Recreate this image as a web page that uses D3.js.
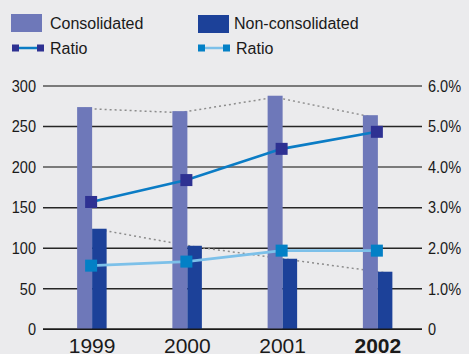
<!DOCTYPE html>
<html>
<head>
<meta charset="utf-8">
<script src="https://cdn.jsdelivr.net/npm/d3@7"></script>
<style>
  html, body { margin: 0; padding: 0; background: #ebebed; }
  svg { display: block; }
  text { font-family: "Liberation Sans", Arial, sans-serif; fill: #1a1a1a; }
</style>
</head>
<body>
<svg id="chart" width="469" height="354"></svg>
<script>
// Fiscal years shown on the x axis
const years = ["1999", "2000", "2001", "2002"];
// Bar values (left axis)
const consolidated = [274, 269, 288, 264];
const nonConsolidated = [124, 103, 87, 71];
// Ratio values in percent (right axis)
const consolidatedRatio = [3.14, 3.68, 4.45, 4.87];
const nonConsolidatedRatio = [1.57, 1.67, 1.94, 1.94];
// Tick labels
const leftTicks = [0, 50, 100, 150, 200, 250, 300];
const rightTickLabels = ["0", "1.0%", "2.0%", "3.0%", "4.0%", "5.0%", "6.0%"];
const rightTicks = [0, 1, 2, 3, 4, 5, 6];

const colors = {
  cons: "#6e78b9",
  nonCons: "#1c4199",
  ratioLine: "#0b7cc5",
  ratioMark: "#2e3192",
  ratio2Line: "#7cc0e9",
  ratio2Mark: "#0380c6",
  dots: "#8c8c8c"
};

const svg = d3.select("#chart");

const gridLeft = 43, gridRight = 422;
const y = d3.scaleLinear().domain([0, 300]).range([329.3, 86]);
const yR = d3.scaleLinear().domain([0, 6]).range([329.3, 86]);
const x = d3.scaleBand().domain(years).range([44.5, 425.5]).paddingInner(0).paddingOuter(0);
const barW = 15;
const center = d => x(d) + x.bandwidth() / 2;

// Gridlines
const grid = svg.append("g");
grid.selectAll("line").data(leftTicks).join("line")
  .attr("x1", gridLeft).attr("x2", gridRight)
  .attr("y1", d => y(d)).attr("y2", d => y(d))
  .attr("stroke", d => (d === 300 || d === 200) ? "#7a7a7a" : "#262626")
  .attr("stroke-width", d => (d === 300 || d === 200) ? 2 : 1.5);

// Left tick labels (narrow face)
svg.append("g").selectAll("text").data(leftTicks).join("text")
  .attr("transform", d => `translate(36,${y(d)}) scale(0.88,1)`)
  .attr("text-anchor", "end")
  .attr("dominant-baseline", "central")
  .style("font-size", "16.5px")
  .text(d => d);

// Right tick labels
svg.append("g").selectAll("text").data(rightTicks).join("text")
  .attr("transform", d => `translate(428,${yR(d)}) scale(0.88,1)`)
  .attr("text-anchor", "start")
  .attr("dominant-baseline", "central")
  .style("font-size", "16.5px")
  .text((d, i) => rightTickLabels[i]);

// Dotted trend lines along bar tops, drawn behind the bars
const dotLine = d3.line().x(d => d[0]).y(d => d[1]);
svg.append("path")
  .attr("d", dotLine(years.map((yr, i) => [center(yr) - barW / 2, y(consolidated[i]) + 1.5])))
  .attr("fill", "none").attr("stroke", colors.dots)
  .attr("stroke-width", 1.5).attr("stroke-dasharray", "2,3");
svg.append("path")
  .attr("d", dotLine(years.map((yr, i) => [center(yr) + barW / 2, y(nonConsolidated[i]) + 1])))
  .attr("fill", "none").attr("stroke", colors.dots)
  .attr("stroke-width", 1.5).attr("stroke-dasharray", "2,3");

// Bars
svg.append("g").selectAll("rect").data(years).join("rect")
  .attr("x", d => center(d) - barW)
  .attr("width", barW)
  .attr("y", (d, i) => y(consolidated[i]))
  .attr("height", (d, i) => y(0) - y(consolidated[i]))
  .attr("fill", colors.cons);
svg.append("g").selectAll("rect").data(years).join("rect")
  .attr("x", d => center(d))
  .attr("width", barW - 0.5)
  .attr("y", (d, i) => y(nonConsolidated[i]))
  .attr("height", (d, i) => y(0) - y(nonConsolidated[i]))
  .attr("fill", colors.nonCons);

// Zero baseline
svg.append("line")
  .attr("x1", gridLeft).attr("x2", gridRight)
  .attr("y1", y(0)).attr("y2", y(0))
  .attr("stroke", "#1a1a1a").attr("stroke-width", 1.5);

// Ratio lines with square markers
function ratioSeries(values, lineColor, markColor) {
  const pts = years.map((yr, i) => [center(yr) - 1, yR(values[i])]);
  svg.append("path")
    .attr("d", d3.line()(pts))
    .attr("fill", "none").attr("stroke", lineColor).attr("stroke-width", 2.6);
  svg.append("g").selectAll("rect").data(pts).join("rect")
    .attr("x", d => d[0] - 6).attr("y", d => d[1] - 6)
    .attr("width", 12).attr("height", 12)
    .attr("fill", markColor);
}
ratioSeries(consolidatedRatio, colors.ratioLine, colors.ratioMark);
ratioSeries(nonConsolidatedRatio, colors.ratio2Line, colors.ratio2Mark);

// X axis labels
svg.append("g").selectAll("text").data(years).join("text")
  .attr("x", d => center(d))
  .attr("y", 353)
  .attr("text-anchor", "middle")
  .style("font-size", "21px")
  .style("font-weight", d => d === "2002" ? "bold" : "normal")
  .text(d => d);

// Legend
const legend = svg.append("g");
legend.append("rect").attr("x", 11).attr("y", 14).attr("width", 31).attr("height", 18).attr("fill", colors.cons);
legend.append("text").attr("x", 50).attr("y", 28.5).style("font-size", "16px").text("Consolidated");
legend.append("rect").attr("x", 198).attr("y", 15).attr("width", 31).attr("height", 18).attr("fill", colors.nonCons);
legend.append("text").attr("x", 234).attr("y", 29).style("font-size", "16px").text("Non-consolidated");

function legendRatio(x0, lineColor, markColor) {
  legend.append("line").attr("x1", x0 + 6).attr("x2", x0 + 26).attr("y1", 48).attr("y2", 48)
    .attr("stroke", lineColor).attr("stroke-width", 2.5);
  legend.append("rect").attr("x", x0).attr("y", 44.5).attr("width", 7).attr("height", 7).attr("fill", markColor);
  legend.append("rect").attr("x", x0 + 25).attr("y", 44.5).attr("width", 7).attr("height", 7).attr("fill", markColor);
  legend.append("text").attr("x", x0 + 38).attr("y", 53.5).style("font-size", "16px").text("Ratio");
}
legendRatio(12, colors.ratioLine, colors.ratioMark);
legendRatio(198, colors.ratio2Line, colors.ratio2Mark);
</script>
</body>
</html>
